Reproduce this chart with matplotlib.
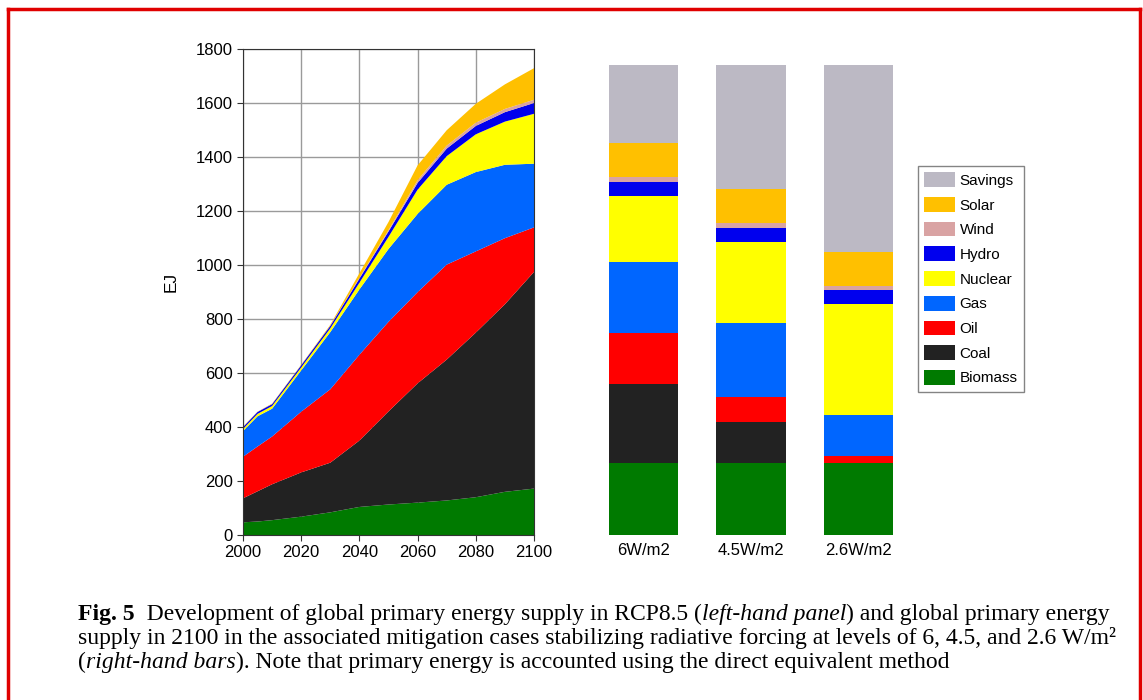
import matplotlib
matplotlib.use("Agg")
import matplotlib.pyplot as plt
from matplotlib.patches import Patch
from matplotlib.lines import Line2D

# RCP8.5 primary energy by source (EJ per layer, not cumulative)
years = [2000, 2005, 2010, 2020, 2030, 2040, 2050, 2060, 2070, 2080, 2090, 2100]
biomass = [47, 50, 55, 68, 84, 104, 113, 120, 128, 140, 160, 172]
coal = [89, 112, 133, 164, 184, 246, 345, 442, 522, 610, 695, 803]
oil = [154, 166, 177, 225, 272, 318, 332, 338, 352, 301, 245, 165]
gas = [95, 112, 103, 153, 212, 242, 270, 290, 296, 294, 272, 236]
nuclear = [8, 9, 10, 11, 14, 25, 45, 90, 106, 140, 160, 185]
hydro = [7, 7, 7, 8, 9, 15, 20, 25, 28, 31, 35, 40]
wind = [0.5, 0.5, 0.5, 0.5, 1, 3, 5, 10, 11, 12, 12, 12]
solar = [1.5, 0.5, 1.5, 1.5, 3, 17, 30, 55, 57, 70, 91, 117]

# 2100 supply in the mitigation cases
cases = ["6W/m2", "4.5W/m2", "2.6W/m2"]
case_biomass = [268, 268, 268]
case_coal = [292, 151, 0]
case_oil = [188, 94, 23]
case_gas = [263, 273, 153]
case_nuclear = [247, 299, 411]
case_hydro = [51, 52, 52]
case_wind = [18, 20, 17]
case_solar = [124, 126, 124]
case_savings = [289, 457, 692]

sources = ["Biomass", "Coal", "Oil", "Gas", "Nuclear", "Hydro", "Wind", "Solar", "Savings"]
colors = {
    "Biomass": "#007a00",
    "Coal": "#222222",
    "Oil": "#ff0000",
    "Gas": "#0066ff",
    "Nuclear": "#ffff00",
    "Hydro": "#0000ee",
    "Wind": "#d9a3a3",
    "Solar": "#ffc000",
    "Savings": "#bcb9c4",
}

W, H = 1143, 700
fig = plt.figure(figsize=(W / 100, H / 100), dpi=100)
plt.rcParams["font.family"] = ["Liberation Sans", "DejaVu Sans"]


def fx(px):
    return px / W


def fy(py):
    return 1 - py / H


# left panel: stacked area
ax = fig.add_axes([fx(243), fy(535), fx(534 - 243), fy(49.3) - fy(535)])
series = [biomass, coal, oil, gas, nuclear, hydro, wind, solar]
ax.stackplot(years, *series, colors=[colors[s] for s in sources[:8]], linewidth=0)
ax.set_xlim(2000, 2100)
ax.set_ylim(0, 1800)
ax.set_xticks(range(2000, 2101, 20))
ax.set_yticks(range(0, 1801, 200))
ax.grid(color="#9a9a9a", linewidth=1)
ax.set_axisbelow(True)
ax.tick_params(labelsize=12, length=4, color="#333333")
for sp in ax.spines.values():
    sp.set_color("#333333")
ax.set_ylabel("EJ", fontsize=12.5)
ax.yaxis.set_label_coords(-0.222, 0.52)

# right panel: 2100 bars per stabilisation level
bx = fig.add_axes([fx(590), fy(535), fx(322), fy(49.3) - fy(535)])
bar_data = [case_biomass, case_coal, case_oil, case_gas, case_nuclear,
            case_hydro, case_wind, case_solar, case_savings]
pos = list(range(len(cases)))
bottom = [0] * len(cases)
for name, vals in zip(sources, bar_data):
    bx.bar(pos, vals, bottom=bottom, width=0.645, color=colors[name], linewidth=0)
    bottom = [b + v for b, v in zip(bottom, vals)]
bx.set_xlim(-0.5, 2.5)
bx.set_ylim(0, 1800)
bx.set_xticks(pos)
bx.set_xticklabels(cases, fontsize=12)
bx.set_yticks([])
bx.tick_params(length=0, pad=6)
for sp in bx.spines.values():
    sp.set_visible(False)

handles = [Patch(facecolor=colors[s], edgecolor="none") for s in sources[::-1]]
fig.legend(handles, sources[::-1], loc="upper left",
           bbox_to_anchor=(fx(918), fy(166)), fontsize=11,
           frameon=True, fancybox=False, edgecolor="#666666",
           handlelength=2.0, handleheight=1.1, handletextpad=0.3,
           labelspacing=0.6, borderpad=0.42, borderaxespad=0)

# caption, set in runs of mixed weight/style
caption = [
    [("Fig. 5", "bold", "normal"),
     ("  Development of global primary energy supply in RCP8.5 (", "normal", "normal"),
     ("left-hand panel", "normal", "italic"),
     (") and global primary energy", "normal", "normal")],
    [("supply in 2100 in the associated mitigation cases stabilizing radiative forcing at levels of 6, 4.5, and 2.6 W/m\u00b2",
      "normal", "normal")],
    [("(", "normal", "normal"),
     ("right-hand bars", "normal", "italic"),
     ("). Note that primary energy is accounted using the direct equivalent method", "normal", "normal")],
]
fig.canvas.draw()
renderer = fig.canvas.get_renderer()
baselines = [620, 644, 668]
for line, base in zip(caption, baselines):
    x = 78
    for txt, weight, style in line:
        t = fig.text(fx(x), fy(base), txt, fontsize=17, family="Liberation Serif",
                     weight=weight, style=style, va="baseline", ha="left", color="#000000")
        bb = t.get_window_extent(renderer)
        x += bb.width

# red border around the page
for xs, ys in [([8, 8], [9, 700]), ([8, 1140], [9, 9]), ([1140, 1140], [9, 700])]:
    fig.add_artist(Line2D([fx(v) for v in xs], [fy(v) for v in ys], color="#e00000", linewidth=2.5))

fig.savefig("out.png", dpi=100)
